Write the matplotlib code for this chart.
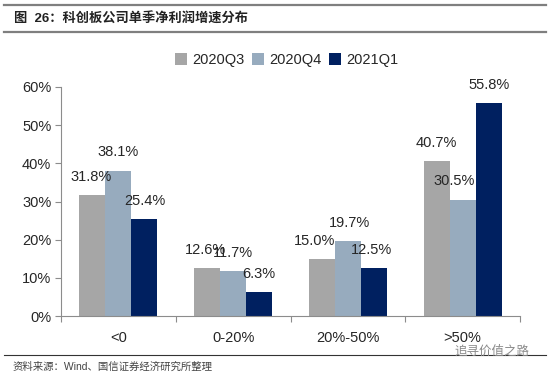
import matplotlib
matplotlib.use('Agg')
import matplotlib.pyplot as plt
import numpy as np
from matplotlib.lines import Line2D

plt.rcParams['font.family'] = ['Liberation Sans', 'Noto Sans CJK SC', 'DejaVu Sans']

categories = ['<0', '0-20%', '20%-50%', '>50%']
q3_2020 = [31.8, 12.6, 15.0, 40.7]
q4_2020 = [38.1, 11.7, 19.7, 30.5]
q1_2021 = [25.4, 6.3, 12.5, 55.8]
series_names = ['2020Q3', '2020Q4', '2021Q1']
y_ticks = [0, 10, 20, 30, 40, 50, 60]

W, H = 550, 373
colors = ['#A6A6A6', '#97ABBE', '#002060']
text_color = '#262626'
# hand placed label shifts in pixels, the source chart nudged them to avoid overlap
label_shift = [[0, 0, 0, 0], [0, 0, 2, -8], [0, 0, -2, 0]]
label_shift[0] = [-1, -2, -7, 0]

fig = plt.figure(figsize=(W / 100, H / 100), dpi=100)
ax = fig.add_axes([61 / W, 1 - 316 / H, (520 - 61) / W, (316 - 87) / H])

x = np.arange(len(categories))
width = 0.227
all_values = [q3_2020, q4_2020, q1_2021]
for i, vals in enumerate(all_values):
    pos = x + (i - 1) * width
    ax.bar(pos, vals, width, color=colors[i], label=series_names[i])
    for j, v in enumerate(vals):
        ax.annotate('%.1f%%' % v, (pos[j], v), xytext=(label_shift[i][j] * 0.72, 8),
                    textcoords='offset points', ha='center', va='bottom',
                    fontsize=10.5, color=text_color)

ax.set_xlim(-0.5, 3.5)
ax.set_ylim(0, 60)
ax.set_yticks(y_ticks)
ax.set_yticklabels(['%d%%' % t for t in y_ticks], fontsize=10.5, color=text_color)
ax.set_xticks(np.arange(0.5, 3.5, 1), minor=False)
ax.set_xticks([-0.5, 0.5, 1.5, 2.5, 3.5])
ax.set_xticklabels([])
ax.set_xticks(x, minor=True)
ax.set_xticklabels(categories, minor=True, fontsize=10.5, color=text_color)
ax.tick_params(axis='x', which='major', length=4, color='#8c8c8c', width=0.8, direction='out')
ax.tick_params(axis='x', which='minor', length=0, pad=11)
ax.tick_params(axis='y', length=4, color='#8c8c8c', width=0.8, pad=3)
for s in ['top', 'right']:
    ax.spines[s].set_visible(False)
for s in ['left', 'bottom']:
    ax.spines[s].set_color('#8c8c8c')
    ax.spines[s].set_linewidth(0.8)

ax.legend(loc='center', bbox_to_anchor=(287 / W, 1 - 60 / H), bbox_transform=fig.transFigure,
          ncols=3, frameon=False, fontsize=10.5, handlelength=0.8, handleheight=0.8,
          handletextpad=0.4, columnspacing=0.5, labelcolor=text_color)

# header and footer rules
for y_px, col, lw in [(5, '#7f7f7f', 1.6), (32, '#7f7f7f', 1.6), (355, '#333333', 0.8)]:
    fig.add_artist(Line2D([4 / W, 546 / W], [1 - y_px / H] * 2, color=col, linewidth=lw))

fig.text(14 / W, 1 - 19 / H, '图  26：科创板公司单季净利润增速分布', fontsize=9.5, fontweight='bold',
         va='center', color='#222222')
fig.text(13 / W, 1 - 367 / H, '资料来源：Wind、国信证券经济研究所整理', fontsize=7.5,
         va='center', color='#444444')
fig.text(454 / W, 1 - 352 / H, '追寻价值之路', fontsize=9, va='center', color='#8a8a8a')

fig.savefig('out.png', dpi=100)
